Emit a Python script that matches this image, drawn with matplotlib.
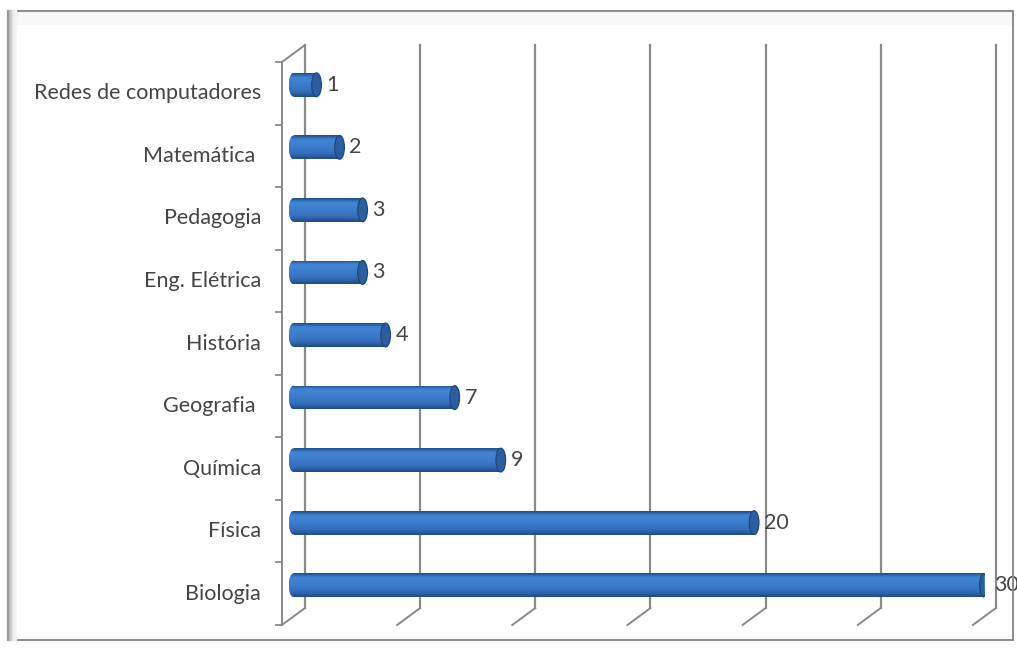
"""
Cursos - horizontal 3D-style bar chart (Excel look)
"""

import numpy as np
import matplotlib.pyplot as plt
import matplotlib.transforms as mtransforms
from matplotlib.patches import Rectangle, Ellipse
from matplotlib.colors import LinearSegmentedColormap

# =============================================================================
# DATA
# =============================================================================
cursos = ['Biologia', 'Física', 'Química', 'Geografia ', 'História',
          'Eng. Elétrica', 'Pedagogia', 'Matemática ', 'Redes de computadores']
valores = [30, 20, 9, 7, 4, 3, 3, 2, 1]
grid_ticks = [0, 5, 10, 15, 20, 25, 30]

plt.rcParams['font.family'] = ['Lato', 'DejaVu Sans']

W, H, DPI = 1017, 648, 100
fig = plt.figure(figsize=(W / DPI, H / DPI), dpi=DPI)
fig.patch.set_facecolor('white')

# frame with a soft shadow on the left
fx0, fx1, fy0, fy1 = 8, 1013, 8, 637          # pixel box (y from bottom)
fig.add_artist(Rectangle(((fx0 + 8) / W, (fy1 - 14) / H), (fx1 - fx0 - 9) / W, 13 / H,
                         transform=fig.transFigure, facecolor='#f8f8f8',
                         edgecolor='none'))
for i, c in enumerate(['#9a9a9a', '#b5b5b5', '#cdcdcd', '#e0e0e0', '#eeeeee', '#f6f6f6']):
    fig.add_artist(plt.Line2D([(fx0 + 1.5 * i) / W] * 2, [fy0 / H, fy1 / H],
                              color=c, lw=1.6, transform=fig.transFigure))
fig.add_artist(Rectangle((fx0 / W, fy0 / H), (fx1 - fx0) / W, (fy1 - fy0) / H,
                         transform=fig.transFigure, fill=False,
                         edgecolor='#8c8c8c', lw=1.4))

# mid-depth plane where the bars live (x from -1 so the rounded left ends fit)
XMIN, XMAX = -1, 30
ppu = 23.03                                   # pixels per unit
x0_px = 293.5
left, right = x0_px + XMIN * ppu, x0_px + XMAX * ppu
top, bottom = 53.5, 616.5                     # image coords (y down)
ax = fig.add_axes([left / W, (H - bottom) / H, (right - left) / W, (bottom - top) / H])
ymin, ymax = -0.5, len(cursos) - 0.5
ax.set_xlim(XMIN, XMAX)
ax.set_ylim(ymin, ymax)
ax.set_autoscale_on(False)
ax.axis('off')

DX, DY = 11.5, 8.5
back = mtransforms.offset_copy(ax.transData, fig, x=DX, y=DY, units='dots')
front = mtransforms.offset_copy(ax.transData, fig, x=-DX, y=-DY, units='dots')
grid_c = '#8a8a8a'

# back wall grid + floor slants
for g in grid_ticks:
    ax.plot([g, g], [ymin, ymax], color=grid_c, lw=1.6, transform=back,
            clip_on=False, zorder=1)
    xb, yb = back.transform((g, ymin))
    xf, yf = front.transform((g, ymin))
    fig.add_artist(plt.Line2D([xb / W, xf / W], [yb / H, yf / H], color=grid_c,
                              lw=1.4, transform=fig.transFigure))

# front left axis with category ticks
ax.plot([0, 0], [ymin, ymax], color=grid_c, lw=1.4, transform=front,
        clip_on=False, zorder=1)
xb, yb = back.transform((0, ymax))
xf, yf = front.transform((0, ymax))
fig.add_artist(plt.Line2D([xb / W, xf / W], [yb / H, yf / H], color=grid_c,
                          lw=1.4, transform=fig.transFigure))
for k in range(len(cursos) + 1):
    px, py = front.transform((0, ymin + k))
    fig.add_artist(plt.Line2D([(px - 6) / W, px / W], [py / H, py / H],
                              color=grid_c, lw=1.3, transform=fig.transFigure))

# category labels
lab = mtransforms.offset_copy(ax.transData, fig, x=-DX - 21, y=-DY, units='dots')
for i, name in enumerate(cursos):
    ax.text(0, i, name, transform=lab, ha='right', va='center',
            fontsize=15.5, color='#454545')

# cylinder bars
bar_h = 0.38
ew = 0.42                                      # end ellipse width (data units)
grad = np.array([[0.10], [0.70], [0.85], [0.80], [0.72], [0.66], [0.60],
                 [0.52], [0.42], [0.28], [0.08]])
cmap = LinearSegmentedColormap.from_list(
    'cyl', ['#1b4680', '#2a5ea2', '#3672c0', '#3d80d0', '#4b8edc'])
for i, v in enumerate(valores):
    y0, y1 = i - bar_h / 2, i + bar_h / 2
    body = Rectangle((0, y0), v, bar_h, facecolor='none', edgecolor='none')
    lend = Ellipse((0, i), ew, bar_h, facecolor='none', edgecolor='none')
    ax.add_patch(body)
    ax.add_patch(lend)
    for clip, ext in [(lend, (-ew / 2, ew / 2, y0, y1)), (body, (0, v, y0, y1))]:
        im = ax.imshow(grad, cmap=cmap, vmin=0, vmax=1, extent=ext,
                       aspect='auto', origin='upper', interpolation='bicubic',
                       zorder=3)
        im.set_clip_path(clip)
    ax.add_patch(Ellipse((v, i), ew, bar_h, facecolor='#2c5e9f',
                         edgecolor='#1d477f', lw=0.9, zorder=5))
    ax.annotate(str(v), (v + ew / 2, i), xytext=(3.5, 0), textcoords='offset points',
                ha='left', va='center', fontsize=15.5, color='#454545',
                annotation_clip=False, zorder=6)

ax.set_xlim(XMIN, XMAX)
ax.set_ylim(ymin, ymax)

plt.savefig('out.png', dpi=DPI)
print("saved out.png")
